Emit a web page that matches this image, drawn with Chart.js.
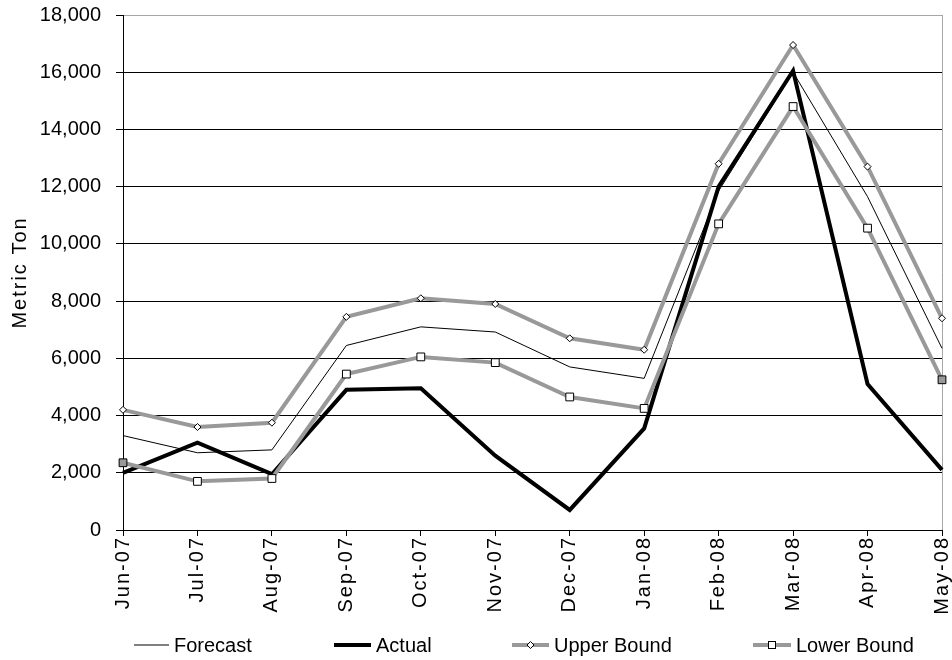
<!DOCTYPE html>
<html>
<head>
<meta charset="utf-8">
<script src="https://cdn.jsdelivr.net/npm/chart.js@4"></script>
<style>
  html, body { margin: 0; padding: 0; background: #fff; }
  #wrap { position: relative; width: 952px; height: 660px; }
  #chart { position: absolute; left: 0; top: 0; }
  .lg { position: absolute; top: 632px; height: 26px; display: flex; align-items: center;
        font-family: 'Liberation Sans', Arial, sans-serif; font-size: 20px; color: #000; white-space: nowrap; }
  .lg svg { display: block; margin-right: 5px; }
</style>
</head>
<body>
<div id="wrap">
  <canvas id="chart" width="952" height="660"></canvas>
  <div class="lg" style="left:134px">
    <svg width="35" height="12"><line x1="0" y1="6" x2="35" y2="6" stroke="#000" stroke-width="1"/></svg>Forecast
  </div>
  <div class="lg" style="left:334px">
    <svg width="37" height="12"><line x1="0" y1="6" x2="37" y2="6" stroke="#000" stroke-width="4"/></svg>Actual
  </div>
  <div class="lg" style="left:512px">
    <svg width="37" height="12"><line x1="0" y1="6" x2="37" y2="6" stroke="#999" stroke-width="4"/>
      <polygon points="15,6 18.5,2.5 22,6 18.5,9.5" fill="#fff" stroke="#000" stroke-width="1"/></svg>Upper Bound
  </div>
  <div class="lg" style="left:753px">
    <svg width="38" height="12"><line x1="0" y1="6" x2="38" y2="6" stroke="#999" stroke-width="4"/>
      <rect x="15.5" y="2.5" width="7" height="7" fill="#fff" stroke="#000" stroke-width="1"/></svg>Lower Bound
  </div>
</div>
<script>
// Monthly categories and series (metric tons)
const categories = ['Jun-07','Jul-07','Aug-07','Sep-07','Oct-07','Nov-07','Dec-07','Jan-08','Feb-08','Mar-08','Apr-08','May-08'];
const forecast = [3300, 2700, 2800, 6450, 7100, 6920, 5700, 5300, 11850, 16000, 11650, 6350];
const actual   = [2000, 3050, 1950, 4900, 4950, 2600, 700, 3550, 12000, 16050, 5100, 2100];
const upperBound = [4200, 3600, 3750, 7450, 8100, 7900, 6700, 6300, 12800, 16950, 12700, 7400];
const lowerBound = [2350, 1700, 1800, 5450, 6050, 5850, 4650, 4250, 10700, 14800, 10550, 5250];
const yTicks = { min: 0, max: 18000, step: 2000 };

const FONT = "'Liberation Sans', Arial, sans-serif";
const GRAY = '#999999';

// Rotated axis text in this chart is set with slightly wider tracking.
function spaced(scale, name) {
  const key = '_spaced_' + name;
  if (!scale || scale[key]) return;
  const orig = scale[name];
  scale[name] = function (...args) {
    const ctx = this.ctx;
    ctx.save();
    ctx.letterSpacing = '2px';
    const r = orig.apply(this, args);
    ctx.restore();
    return r;
  };
  scale[key] = true;
}
const trackingPlugin = {
  id: 'tracking',
  beforeDraw(chart) {
    spaced(chart.scales.x, 'drawLabels');
    spaced(chart.scales.y, 'drawTitle');
  }
};

const edgeFill = (n) => categories.map((_, i) => (i === 0 || i === n - 1) ? GRAY : '#ffffff');

new Chart(document.getElementById('chart'), {
  type: 'line',
  data: {
    labels: categories,
    datasets: [
      { label: 'Forecast', data: forecast, borderColor: '#000', borderWidth: 1, pointRadius: 0, order: 4, clip: false },
      { label: 'Actual', data: actual, borderColor: '#000', borderWidth: 4, pointRadius: 0, order: 3, clip: false },
      { label: 'Upper Bound', data: upperBound, borderColor: GRAY, borderWidth: 4, pointStyle: 'rectRot', pointRadius: 3.5,
        pointBackgroundColor: '#fff', pointBorderColor: '#000', pointBorderWidth: 1, order: 2, clip: false },
      { label: 'Lower Bound', data: lowerBound, borderColor: GRAY, borderWidth: 4, pointStyle: 'rect', pointRadius: 5.5,
        pointBackgroundColor: edgeFill(categories.length), pointBorderColor: '#000', pointBorderWidth: 1, order: 1, clip: false }
    ]
  },
  options: {
    responsive: false,
    animation: false,
    events: [],
    layout: { padding: { top: 15, right: 10, left: 0, bottom: 0 } },
    plugins: { legend: { display: false }, tooltip: { enabled: false } },
    elements: { line: { tension: 0 } },
    scales: {
      x: {
        offset: false,
        grid: {
          drawOnChartArea: true,
          color: (c) => c.index === categories.length - 1 ? '#a6a6a6' : 'rgba(0,0,0,0)',
          tickColor: '#000',
          tickLength: 6
        },
        border: { color: '#000', width: 1 },
        ticks: {
          autoSkip: false, minRotation: 90, maxRotation: 90, padding: 0,
          color: '#000', font: { family: FONT, size: 20 }
        },
        afterFit(scale) {
          scale.height = 130;
          scale.paddingLeft = 0; scale.paddingRight = 0;
        }
      },
      y: {
        min: yTicks.min, max: yTicks.max,
        grid: {
          color: (c) => (c.tick && c.tick.value === yTicks.max) ? '#a6a6a6' : '#000',
          tickColor: '#000',
          tickLength: 7
        },
        border: { color: '#000', width: 1 },
        ticks: {
          stepSize: yTicks.step, padding: 15, color: '#000',
          font: { family: FONT, size: 20 },
          callback: (v) => v.toLocaleString('en-US')
        },
        title: { display: true, text: 'Metric Ton', color: '#000', font: { family: FONT, size: 20 }, padding: { top: 8, bottom: 0 } },
        afterFit(scale) {
          scale.width = 123;
          scale.paddingTop = 0; scale.paddingBottom = 0;
        }
      }
    }
  },
  plugins: [trackingPlugin]
});
</script>
</body>
</html>
